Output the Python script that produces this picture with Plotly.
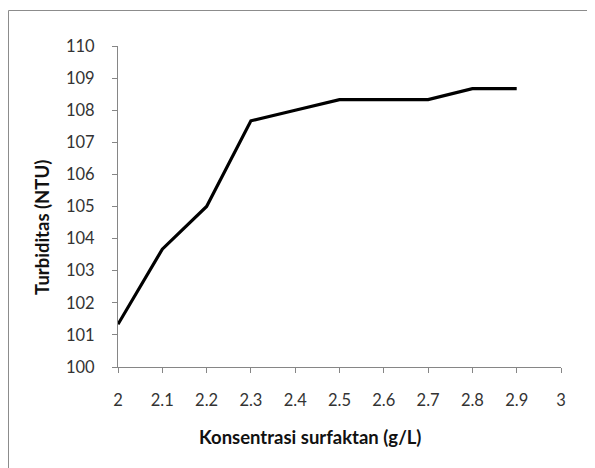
import plotly.graph_objects as go

konsentrasi = [2.0, 2.1, 2.2, 2.3, 2.4, 2.5, 2.6, 2.7, 2.8, 2.9]
turbiditas = [101.33, 103.67, 105.0, 107.67, 108.0, 108.33, 108.33, 108.33, 108.67, 108.67]
x_ticks = [2, 2.1, 2.2, 2.3, 2.4, 2.5, 2.6, 2.7, 2.8, 2.9, 3]
x_tick_text = ["2", "2.1", "2.2", "2.3", "2.4", "2.5", "2.6", "2.7", "2.8", "2.9", "3"]
y_ticks = list(range(100, 111))

# page has an 8px body margin; figure coordinates = page coordinates - 8
OFF = 8
W, H = 587, 460
L, T = 118 - OFF, 46 - OFF
R = W - (561 - OFF)
B = H - (367 - OFF)
pw, ph = W - L - R, H - T - B

def px(xpage):
    return (xpage - OFF - L) / pw

def py(ypage):
    return (H - B - (ypage - OFF)) / ph

fig = go.Figure()
fig.add_trace(go.Scatter(
    x=konsentrasi, y=turbiditas, mode="lines",
    line=dict(color="#000000", width=3.2), showlegend=False,
))

axis_col = "#868686"
fig.update_layout(
    width=W, height=H,
    margin=dict(l=L, r=R, t=T, b=B),
    paper_bgcolor="white", plot_bgcolor="white",
    font=dict(family="Lato, Carlito, sans-serif", color="#333333"),
    xaxis=dict(
        range=[2, 3], tickmode="array", tickvals=x_ticks, ticktext=x_tick_text,
        showgrid=False, zeroline=False, showline=True, linecolor=axis_col, linewidth=1,
        ticks="outside", ticklen=5, tickcolor=axis_col, tickwidth=1,
        tickfont=dict(size=16.5, color="#333333"), ticklabelstandoff=13,
    ),
    yaxis=dict(
        range=[100, 110], tickmode="array", tickvals=y_ticks,
        showgrid=False, zeroline=False, showline=True, linecolor=axis_col, linewidth=1,
        ticks="outside", ticklen=5, tickcolor=axis_col, tickwidth=1,
        tickfont=dict(size=16.5, color="#333333"), ticklabelstandoff=14,
    ),
    shapes=[
        dict(type="rect", xref="paper", yref="paper",
             x0=px(8.5), x1=px(640), y0=py(10.5), y1=py(520),
             line=dict(color="#8c8c8c", width=1), fillcolor="rgba(0,0,0,0)", layer="below"),
    ],
    annotations=[
        dict(text="<b>Konsentrasi surfaktan (g/L)</b>", xref="paper", yref="paper",
             x=px(310), y=py(437), showarrow=False, xanchor="center", yanchor="middle",
             font=dict(size=18.5, color="#111111")),
        dict(text="<b>Turbiditas (NTU)</b>", xref="paper", yref="paper",
             x=px(42), y=py(228), showarrow=False, xanchor="center", yanchor="middle",
             textangle=-90, font=dict(size=18.5, color="#111111")),
    ],
)

fig.write_html("out.html")
